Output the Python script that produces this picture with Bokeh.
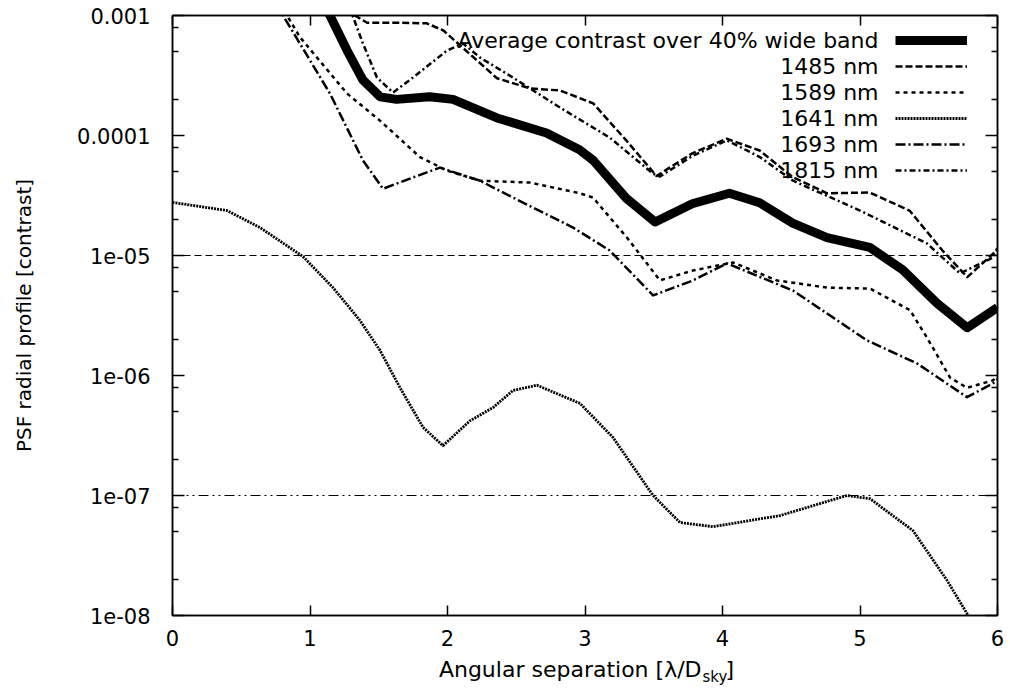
from bokeh.plotting import figure
from bokeh.layouts import column
from bokeh.models import (LinearAxis, LogAxis, FixedTicker, CustomJSTickFormatter,
                          Span, Label, Legend, LegendItem, Range1d)
from bokeh.embed import file_html
from bokeh.resources import INLINE
from bokeh.core.properties import value

FONT = "DejaVu Sans"

# ---------------- data ----------------
x_ticks = [0, 1, 2, 3, 4, 5, 6]
y_tick_values = [1e-3, 1e-4, 1e-5, 1e-6, 1e-7, 1e-8]
y_tick_labels = ["0.001", "0.0001", "1e-05", "1e-06", "1e-07", "1e-08"]
y_minor_ticks = [m * d for d in [1e-8, 1e-7, 1e-6, 1e-5, 1e-4] for m in (2, 5, 8)]

series_names = ["Average contrast over 40% wide band", "1485 nm", "1589 nm",
                "1641 nm", "1693 nm", "1815 nm"]

x_avg = [1.05, 1.145, 1.27, 1.385, 1.51, 1.63, 1.87, 2.04, 2.36, 2.72, 2.96, 3.06,
         3.3, 3.51, 3.78, 4.05, 4.27, 4.51, 4.76, 5.07, 5.31, 5.56, 5.78, 5.97, 6.0]
y_avg = [1.51e-3, 1.0e-3, 5.1e-4, 2.9e-4, 2.1e-4, 2.0e-4, 2.1e-4, 2.0e-4, 1.4e-4,
         1.05e-4, 7.6e-5, 6.2e-5, 3.0e-5, 1.9e-5, 2.7e-5, 3.3e-5, 2.75e-5, 1.86e-5,
         1.41e-5, 1.17e-5, 7.6e-6, 4.0e-6, 2.5e-6, 3.5e-6, 3.7e-6]

x_1485 = [1.2, 1.29, 1.415, 1.655, 1.85, 1.97, 2.11, 2.36, 2.6, 2.82, 3.06, 3.3, 3.52,
          3.78, 4.03, 4.27, 4.51, 4.76, 5.07, 5.36, 5.6, 5.78, 5.97, 6.0]
y_1485 = [1.6e-3, 1.06e-3, 8.7e-4, 8.7e-4, 8.6e-4, 7.5e-4, 5.4e-4, 3.0e-4, 2.47e-4,
          2.37e-4, 1.85e-4, 9.1e-5, 4.6e-5, 7.1e-5, 9.4e-5, 7.5e-5, 4.5e-5, 3.3e-5,
          3.35e-5, 2.37e-5, 1.1e-5, 6.6e-6, 1.04e-5, 1.15e-5]

x_1589 = [0.75, 0.833, 0.927, 1.269, 1.509, 1.8, 1.996, 2.236, 2.6, 2.964, 3.058, 3.305,
          3.545, 3.785, 4.076, 4.396, 4.76, 5.073, 5.364, 5.487, 5.655, 5.778, 5.967, 6.0]
y_1589 = [1.41e-3, 1.0e-3, 6.6e-4, 2.24e-4, 1.33e-4, 6.6e-5, 5.1e-5, 4.2e-5, 4.05e-5,
          3.3e-5, 3.04e-5, 1.41e-5, 6.2e-6, 7.5e-6, 8.75e-6, 6.2e-6, 5.4e-6, 5.3e-6,
          3.5e-6, 2.07e-6, 9.6e-7, 7.9e-7, 9.1e-7, 1.0e-6]

x_1641 = [0.0, 0.396, 0.636, 0.949, 1.167, 1.364, 1.509, 1.655, 1.822, 1.967, 2.164,
          2.331, 2.476, 2.651, 2.964, 3.204, 3.495, 3.691, 3.931, 4.418, 4.905, 5.073,
          5.385, 5.633, 5.778, 5.84]
y_1641 = [2.77e-5, 2.37e-5, 1.71e-5, 9.8e-6, 5.4e-6, 2.87e-6, 1.62e-6, 7.9e-7, 3.7e-7,
          2.6e-7, 4.2e-7, 5.4e-7, 7.5e-7, 8.3e-7, 5.85e-7, 3.04e-7, 1.0e-7, 5.95e-8,
          5.5e-8, 6.8e-8, 1.0e-7, 9.4e-8, 5.1e-8, 1.96e-8, 1.04e-8, 7.2e-9]

x_1693 = [0.75, 0.804, 1.145, 1.385, 1.531, 1.749, 1.945, 2.236, 2.476, 2.913, 3.18,
          3.495, 3.785, 4.033, 4.513, 5.051, 5.415, 5.778, 5.967, 6.0]
y_1693 = [1.26e-3, 1.0e-3, 2.24e-4, 6.2e-5, 3.6e-5, 4.47e-5, 5.4e-5, 4.2e-5, 3.04e-5,
          1.71e-5, 1.1e-5, 4.65e-6, 6.2e-6, 8.6e-6, 5.1e-6, 1.96e-6, 1.26e-6, 6.6e-7,
          8.6e-7, 9.3e-7]

x_1815 = [1.25, 1.29, 1.385, 1.487, 1.604, 1.749, 1.996, 2.113, 2.236, 2.476, 2.818,
          3.18, 3.495, 3.545, 3.785, 4.033, 4.273, 4.513, 5.0, 5.487, 5.727, 5.967, 6.0]
y_1815 = [2.0e-3, 1.15e-3, 5.85e-4, 3.04e-4, 2.28e-4, 3.04e-4, 5.1e-4, 5.85e-4, 4.47e-4,
          3.04e-4, 1.71e-4, 9.6e-5, 4.8e-5, 4.55e-5, 6.8e-5, 9.1e-5, 6.6e-5, 4.2e-5,
          2.37e-5, 1.26e-5, 7.1e-6, 9.6e-6, 1.12e-5]

ref_levels = [1e-5, 1e-7]

x_label_main = "Angular separation [λ/D"
x_label_sub = "sky"
x_label_end = "]"
y_label = "PSF radial profile [contrast]"

# ---------------- styles ----------------
series_x = [x_avg, x_1485, x_1589, x_1641, x_1693, x_1815]
series_y = [y_avg, y_1485, y_1589, y_1641, y_1693, y_1815]
series_width = [9, 2.5, 2.5, 2.8, 2.5, 2.5]
series_dash = ["solid", "7 3", "4 4", "2 1", "10 3 2 3", "6 3 2 3"]
ref_dash = ["7 4", "10 4 2 4 2 4"]

p = figure(frame_width=825, frame_height=600, title=None,
           x_range=Range1d(0, 6), y_range=Range1d(1e-8, 1e-3),
           y_axis_type="log", output_backend="svg", toolbar_location=None,
           min_border_left=172, min_border_right=11, min_border_top=15,
           min_border_bottom=40, background_fill_color="white",
           border_fill_color="white")
p.xgrid.visible = False
p.ygrid.visible = False
p.outline_line_color = "black"
p.outline_line_width = 1.5

y_fmt = CustomJSTickFormatter(args=dict(vals=y_tick_values, labels=y_tick_labels), code="""
for (let i = 0; i < vals.length; i++) {
  if (Math.abs(Math.log10(tick) - Math.log10(vals[i])) < 1e-6) return labels[i];
}
return "";
""")
blank_fmt = CustomJSTickFormatter(code="return '';")


def style_axis(ax, major_in, minor_in):
    ax.axis_line_color = "black"
    ax.axis_line_width = 1.5
    ax.major_tick_line_width = 1.5
    ax.minor_tick_line_width = 1.5
    ax.major_tick_in = major_in
    ax.major_tick_out = 0
    ax.minor_tick_in = minor_in
    ax.minor_tick_out = 0
    ax.major_label_text_font = FONT
    ax.major_label_text_color = "black"
    ax.major_label_text_font_size = "21px"


# bottom x axis
xa = p.xaxis[0]
xa.ticker = FixedTicker(ticks=x_ticks, minor_ticks=[])
style_axis(xa, 10, 0)
xa.major_label_standoff = 14

# left y axis
ya = p.yaxis[0]
ya.ticker = FixedTicker(ticks=y_tick_values, minor_ticks=y_minor_ticks)
ya.formatter = y_fmt
style_axis(ya, 12, 6)
ya.major_label_standoff = 22
ya.axis_label = y_label
ya.axis_label_text_font = FONT
ya.axis_label_text_font_size = "20px"
ya.axis_label_text_font_style = "normal"
ya.axis_label_text_color = "black"
ya.axis_label_standoff = 38

# top and right mirror axes (ticks only)
xt = LinearAxis(ticker=FixedTicker(ticks=x_ticks, minor_ticks=[]), formatter=blank_fmt)
style_axis(xt, 10, 0)
xt.major_label_standoff = 0
p.add_layout(xt, "above")
yr = LogAxis(ticker=FixedTicker(ticks=y_tick_values, minor_ticks=y_minor_ticks),
             formatter=blank_fmt)
style_axis(yr, 12, 6)
yr.major_label_standoff = 0
p.add_layout(yr, "right")

# reference levels
for lvl, dash in zip(ref_levels, ref_dash):
    p.add_layout(Span(location=lvl, dimension="width", line_color="black",
                      line_width=1.2, line_dash=dash))

# curves (thin first, thick average last so it is on top)
renderers = [None] * len(series_names)
for i in list(range(1, len(series_names))) + [0]:
    renderers[i] = p.line(series_x[i], series_y[i], line_color="black",
                          line_width=series_width[i], line_dash=series_dash[i],
                          line_join="round")

# legend: samples on the right, right-aligned texts on the left
legend = Legend(items=[LegendItem(label=value(""), renderers=[r]) for r in renderers],
                location=(723, 432), glyph_width=72, glyph_height=26, spacing=0,
                padding=0, margin=0, label_text_font_size="10px", label_standoff=0,
                label_width=0, label_height=0, border_line_color=None,
                background_fill_alpha=0)
p.add_layout(legend)
for i, name in enumerate(series_names):
    p.add_layout(Label(x=706, y=575 - 26 * i, x_units="screen", y_units="screen",
                       text=name, text_align="right", text_baseline="middle",
                       text_font=FONT, text_font_size="22px", text_color="black"))

# x axis title (with subscript) in a strip below the plot; frame aligned with p
q = figure(frame_width=825, frame_height=45, output_backend="svg", toolbar_location=None,
           title=None, x_axis_location=None, y_axis_location=None,
           min_border_left=172, min_border_right=11, min_border_top=0,
           min_border_bottom=0,
           x_range=Range1d(0, 825), y_range=Range1d(0, 45),
           background_fill_color="white", border_fill_color="white")
q.outline_line_color = None
q.xgrid.visible = False
q.ygrid.visible = False
q.add_layout(Label(x=529, y=31, x_units="screen", y_units="screen",
                   text=x_label_main, text_align="right", text_baseline="alphabetic",
                   text_font=FONT, text_font_size="22px", text_color="black"))
q.add_layout(Label(x=530, y=24, x_units="screen", y_units="screen",
                   text=x_label_sub, text_align="left", text_baseline="alphabetic",
                   text_font=FONT, text_font_size="15px", text_color="black"))
q.add_layout(Label(x=553, y=31, x_units="screen", y_units="screen",
                   text=x_label_end, text_align="left", text_baseline="alphabetic",
                   text_font=FONT, text_font_size="22px", text_color="black"))

layout = column(p, q, spacing=0)
open("out.html", "w").write(file_html(layout, INLINE))
